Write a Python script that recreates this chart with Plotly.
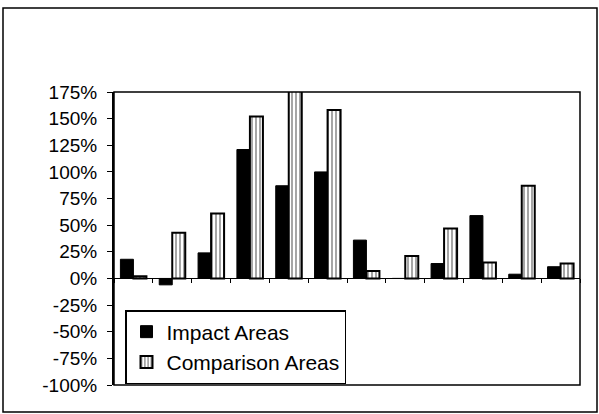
import plotly.graph_objects as go

# ---- data (percent change) ----
categories = list(range(12))
impact_areas = [18, -6, 24, 121, 87, 100, 36, 0, 14, 59, 4, 11]
comparison_areas = [2, 43, 61, 152, 180, 158, 7, 21, 47, 15, 87, 14]
y_ticks = [-100, -75, -50, -25, 0, 25, 50, 75, 100, 125, 150, 175]
y_tick_labels = [f"{v}%" for v in y_ticks]
x_tick_positions = [c - 0.5 for c in categories] + [categories[-1] + 0.5]

W, H = 599, 414
ML, MR, MT, MB = 114, 19, 92, 29
YMIN, YMAX = -100, 175
FONT = "Liberation Sans, Arial, sans-serif"

fig = go.Figure()
fig.add_trace(go.Bar(
    x=categories, y=impact_areas, name="Impact Areas",
    marker=dict(color="black", line=dict(color="black", width=1)),
))
fig.add_trace(go.Bar(
    x=categories, y=comparison_areas, name="Comparison Areas",
    marker=dict(color="white", line=dict(color="black", width=2),
                pattern=dict(shape="|", fgcolor="black", bgcolor="white",
                             size=4, solidity=0.35)),
))

pw = W - ML - MR
ph = H - MT - MB
zero_pos = (0 - YMIN) / (YMAX - YMIN)

fig.update_layout(
    width=W, height=H, autosize=False,
    margin=dict(l=ML, r=MR, t=MT, b=MB, pad=0),
    paper_bgcolor="white", plot_bgcolor="white",
    barmode="group", bargap=0.33, bargroupgap=0,
    font=dict(family=FONT, color="black", size=19),
    xaxis=dict(
        range=[-0.5, 11.5], anchor="free", position=zero_pos,
        showline=True, linecolor="black", linewidth=1,
        tickmode="array", tickvals=x_tick_positions, showticklabels=False,
        ticks="outside", ticklen=4, tickcolor="black", tickwidth=1,
        showgrid=False, zeroline=False,
    ),
    yaxis=dict(
        range=[YMIN, YMAX], tickmode="array", tickvals=y_ticks, ticktext=y_tick_labels,
        showline=True, linecolor="black", linewidth=2,
        ticks="outside", ticklen=5, tickcolor="black", tickwidth=1,
        ticklabelstandoff=6,
        showgrid=False, zeroline=False,
        tickfont=dict(family=FONT, size=19, color="black"),
    ),
    legend=dict(
        x=(125 - ML) / pw, y=(H - MB - 347) / ph, xanchor="left", yanchor="middle",
        bordercolor="black", borderwidth=1.5, bgcolor="white",
        font=dict(family=FONT, size=21, color="black"),
        tracegroupgap=0, itemwidth=30,
    ),
    showlegend=True,
    shapes=[
        # plot area frame
        dict(type="rect", xref="paper", yref="paper", x0=0, x1=1, y0=0, y1=1,
             line=dict(color="black", width=1.5), layer="above"),
        # outer chart border
        dict(type="rect", xref="paper", yref="paper",
             x0=(3 - ML) / pw, x1=(597 - ML) / pw,
             y0=(H - MB - 412) / ph, y1=(H - MB - 8) / ph,
             line=dict(color="black", width=1.5), layer="above"),
    ],
)

fig.write_html("out.html", config={"displayModeBar": False},
               post_script="document.body.style.margin='0';document.body.style.overflow='hidden';")
